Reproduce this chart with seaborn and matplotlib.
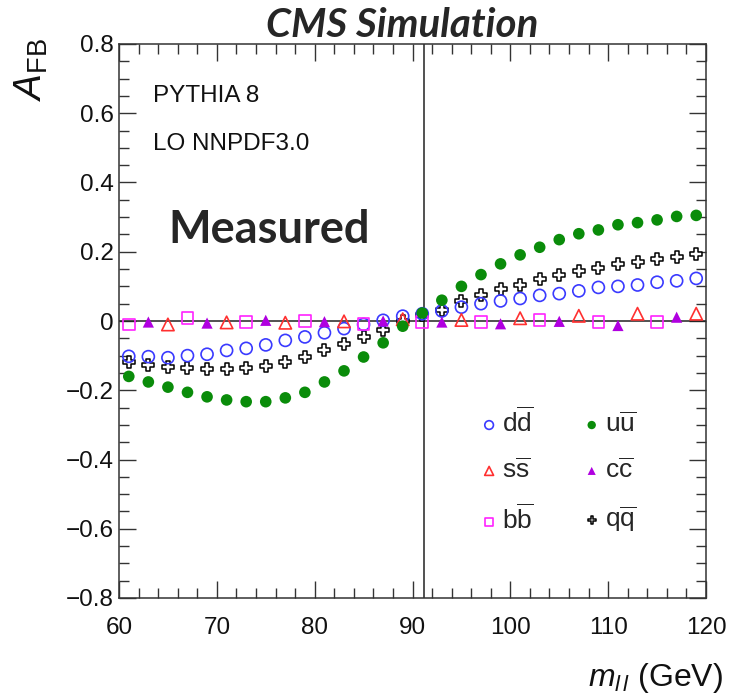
import numpy as np
import pandas as pd
import matplotlib
matplotlib.use("Agg")
import matplotlib.pyplot as plt
from matplotlib.ticker import MultipleLocator, FuncFormatter
import seaborn as sns

# dilepton mass bins (GeV)
mass = [61, 63, 65, 67, 69, 71, 73, 75, 77, 79, 81, 83, 85, 87, 89,
        91, 93, 95, 97, 99, 101, 103, 105, 107, 109, 111, 113, 115, 117, 119]

afb_uu = [-0.160, -0.176, -0.191, -0.206, -0.219, -0.228, -0.233, -0.233, -0.222, -0.206,
          -0.176, -0.144, -0.104, -0.063, -0.015, 0.023, 0.060, 0.100, 0.134, 0.165,
          0.191, 0.213, 0.235, 0.252, 0.263, 0.278, 0.284, 0.292, 0.302, 0.305]
afb_dd = [-0.102, -0.103, -0.106, -0.100, -0.096, -0.085, -0.079, -0.069, -0.056, -0.046,
          -0.034, -0.022, -0.010, 0.002, 0.014, 0.021, 0.029, 0.040, 0.050, 0.058,
          0.065, 0.074, 0.079, 0.087, 0.097, 0.100, 0.104, 0.112, 0.116, 0.123]
afb_qq = [-0.117, -0.126, -0.134, -0.136, -0.140, -0.139, -0.136, -0.129, -0.119, -0.103,
          -0.084, -0.065, -0.046, -0.025, 0.000, 0.017, 0.033, 0.058, 0.075, 0.092,
          0.103, 0.120, 0.132, 0.143, 0.152, 0.165, 0.171, 0.179, 0.186, 0.193]

mass_ss = [65, 71, 77, 83, 89, 95, 101, 107, 113, 119]
afb_ss = [-0.010, -0.004, -0.005, -0.001, 0.005, 0.003, 0.008, 0.015, 0.021, 0.021]
mass_cc = [63, 69, 75, 81, 87, 93, 99, 105, 111, 117]
afb_cc = [-0.003, -0.006, 0.002, -0.002, 0.000, -0.003, -0.008, -0.001, -0.013, 0.011]
mass_bb = [61, 67, 73, 79, 85, 91, 97, 103, 109, 115]
afb_bb = [-0.010, 0.008, -0.003, 0.000, -0.009, -0.003, -0.002, 0.002, -0.002, -0.002]

z_mass = 91.19

sns.set_style("ticks")
plt.rcParams["font.family"] = ["Liberation Sans", "DejaVu Sans"]
plt.rcParams["mathtext.fontset"] = "custom"
plt.rcParams["mathtext.rm"] = "Liberation Sans"
plt.rcParams["mathtext.it"] = "Liberation Sans:italic"
plt.rcParams["axes.unicode_minus"] = True

fig = plt.figure(figsize=(7.4, 6.94), dpi=100)
ax = fig.add_axes([119 / 740, 1 - 598 / 694, 587 / 740, 554 / 694])

ax.axhline(0, color="#222222", lw=1.1, zorder=1)
ax.axvline(z_mass, color="#222222", lw=1.1, zorder=1)

series = [
    ("qq", mass, afb_qq, "P", "black", True, 80, r"$\mathrm{q\overline{q}}$"),
    ("dd", mass, afb_dd, "o", "#3a3aff", True, 75, r"$\mathrm{d\overline{d}}$"),
    ("ss", mass_ss, afb_ss, "^", "#ff3030", True, 80, r"$\mathrm{s\overline{s}}$"),
    ("cc", mass_cc, afb_cc, "^", "#b000e0", False, 65, r"$\mathrm{c\overline{c}}$"),
    ("bb", mass_bb, afb_bb, "s", "#ff22ff", True, 70, r"$\mathrm{b\overline{b}}$"),
    ("uu", mass, afb_uu, "o", "#0a8c0a", False, 70, r"$\mathrm{u\overline{u}}$"),
]

handles = {}
for key, xs, ys, mk, col, hollow, size, lab in series:
    df = pd.DataFrame({"mll": xs, "afb": ys})
    sns.scatterplot(data=df, x="mll", y="afb", marker=mk, s=size, color=col,
                    linewidth=1.1 if key == "qq" else 1.2, legend=False, ax=ax, zorder=3)
    pts = ax.collections[-1]
    if hollow:
        pts.set_facecolor("white" if key == "qq" else "none")
        pts.set_edgecolor(col)
    else:
        pts.set_edgecolor("none")
    pts.set_label(lab)
    handles[key] = pts

ax.set_xlim(60, 120)
ax.set_ylim(-0.8, 0.8)
ax.xaxis.set_major_locator(MultipleLocator(10))
ax.xaxis.set_minor_locator(MultipleLocator(2))
ax.yaxis.set_major_locator(MultipleLocator(0.2))
ax.yaxis.set_minor_locator(MultipleLocator(0.05))
ax.yaxis.set_major_formatter(FuncFormatter(lambda v, p: f"{v:g}".replace("-", "\u2212") if abs(v) > 1e-9 else "0"))
ax.tick_params(which="both", direction="in", top=True, right=True, width=1, color="#333333",
               labelsize=17.5, labelcolor="#111111")
ax.tick_params(which="major", length=12.5)
ax.tick_params(which="minor", length=7)
ax.tick_params(axis="x", pad=14)
ax.tick_params(axis="y", pad=4)
for sp in ax.spines.values():
    sp.set_color("#333333")
    sp.set_linewidth(1.1)
ax.set_xlabel("")
ax.set_ylabel("")

order = ["dd", "ss", "bb", "uu", "cc", "qq"]
ax.legend([handles[k] for k in order], [handles[k].get_label() for k in order],
          ncol=2, frameon=False, fontsize=19, markerscale=0.72,
          handlelength=0.6, handletextpad=0.2, columnspacing=1.9, labelspacing=0.8,
          borderpad=0, loc="upper left", bbox_transform=fig.transFigure,
          bbox_to_anchor=(468 / 740, 1 - 394 / 694))

fig.text(153 / 740, 1 - 102 / 694, "PYTHIA 8", fontsize=17.5, color="#111111", va="baseline")
fig.text(153 / 740, 1 - 150 / 694, "LO NNPDF3.0", fontsize=17.5, color="#111111", va="baseline")
fig.text(168 / 740, 1 - 243 / 694, "Measured", fontsize=32.5, fontweight="bold",
         family="Lato", va="baseline")
fig.text(402 / 740, 1 - 37 / 694, "CMS Simulation", fontsize=29, fontweight="bold",
         fontstyle="italic", family="Lato", ha="center", va="baseline")
fig.text(31 / 740, 1 - 38 / 694, r"$A_{\mathrm{FB}}$", fontsize=28, rotation=90,
         ha="center", va="top", color="#111111")
fig.text(723 / 740, 1 - 686 / 694, r"$m_{l\,l}$ (GeV)", fontsize=23, ha="right",
         va="baseline", color="#111111")

fig.savefig("out.png", dpi=100)
